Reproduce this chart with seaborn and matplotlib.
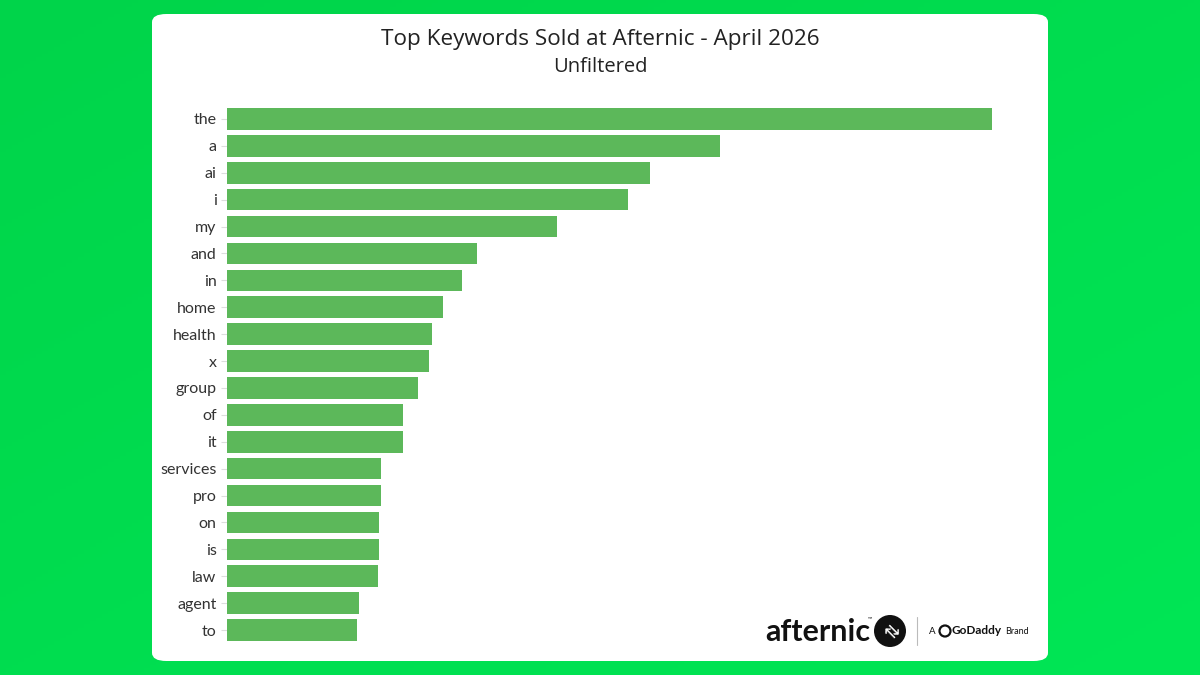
import numpy as np
import pandas as pd
import matplotlib
matplotlib.use("Agg")
import matplotlib.pyplot as plt
from matplotlib.patches import FancyBboxPatch, Ellipse
import seaborn as sns

keywords = ["the", "a", "ai", "i", "my", "and", "in", "home", "health", "x",
            "group", "of", "it", "services", "pro", "on", "is", "law", "agent", "to"]
counts = [765, 493, 423, 401, 330, 250, 235, 216, 205, 202,
          191, 176, 176, 154, 154, 152, 152, 151, 132, 130]

title = "Top Keywords Sold at Afternic - April 2026"
subtitle = "Unfiltered"

sns.set_theme(style="white")
plt.rcParams['font.family'] = ['Lato', 'DejaVu Sans']

df = pd.DataFrame({"keyword": keywords, "count": counts})

fig = plt.figure(figsize=(12, 6.75), dpi=100)
W, H = 1200, 675

# green gradient background
bg = fig.add_axes([0, 0, 1, 1], zorder=-10)
yy, xx = np.mgrid[0:1:200j, 0:1:200j]
g = 0.5 * xx + 0.5 * (1 - yy)
c1 = np.array([0x00, 0xd4, 0x4a]) / 255
c2 = np.array([0x00, 0xe6, 0x55]) / 255
img = c1[None, None, :] * (1 - g[..., None]) + c2[None, None, :] * g[..., None]
bg.imshow(img, extent=[0, 1, 0, 1], aspect='auto', origin='lower')
bg.set_xlim(0, 1); bg.set_ylim(0, 1)
bg.axis('off')

# white card
card = FancyBboxPatch((152 / W, 1 - 661 / H), (1048 - 152) / W, (661 - 14) / H,
                      boxstyle="round,pad=0,rounding_size=0.012",
                      transform=fig.transFigure, facecolor="white", edgecolor="none",
                      zorder=-5)
fig.patches.append(card)

ax_left = 227 / W
ax_right = 1030 / W
ax = fig.add_axes([ax_left, 1 - 643.5 / H, ax_right - ax_left, 538 / H])
ax.set_facecolor("none")
sns.barplot(data=df, x="count", y="keyword", color="#5cb85a", saturation=1,
            width=0.8, ax=ax, orient="h", linewidth=0)
ax.set_xlim(0, max(counts) * (1030 - 227) / 765)
ax.set_ylim(len(keywords) - 0.5, -0.5)
ax.set_xlabel(""); ax.set_ylabel("")
ax.set_xticks([])
ax.tick_params(axis='y', left=True, length=4.5, width=0.8, color="#dddddd", pad=3,
               labelsize=11.5, labelcolor="#333333")
for s in ax.spines.values():
    s.set_visible(False)

fig.text(600 / W, 1 - 40 / H, title, ha="center", va="center", fontsize=16.2,
         color="#222222", family=["Open Sans", "DejaVu Sans"])
fig.text(600 / W, 1 - 67 / H, subtitle, ha="center", va="center", fontsize=14.5,
         color="#222222", family=["Open Sans", "DejaVu Sans"])

# logo area
fig.text(765 / W, 1 - 632 / H, "afternic", ha="left", va="center", fontsize=22,
         fontweight="bold", color="#111111", family=["Lato", "DejaVu Sans"])
fig.text(868 / W, 1 - 619 / H, "™", ha="left", va="center", fontsize=4, color="#111111")
circ = Ellipse((890 / W, 1 - 631 / H), 32 / W, 32 / H, transform=fig.transFigure,
               facecolor="#111111", edgecolor="none")
fig.patches.append(circ)
fig.text(890 / W, 1 - 631 / H, "⇄", ha="center", va="center", fontsize=13,
         color="white", family=["DejaVu Sans"], rotation=-45)
fig.add_artist(plt.Line2D([917 / W, 917 / W], [1 - 645 / H, 1 - 617 / H],
                          transform=fig.transFigure, color="#bbbbbb", lw=0.8))
fig.text(929 / W, 1 - 631 / H, "A", ha="left", va="center", fontsize=7, color="#111111")
heart = Ellipse((945 / W, 1 - 631 / H), 11 / W, 11 / H, transform=fig.transFigure,
                facecolor="none", edgecolor="#111111", lw=1.6)
fig.patches.append(heart)
fig.text(952 / W, 1 - 631 / H, "GoDaddy", ha="left", va="center", fontsize=8.5,
         fontweight="bold", color="#111111")
fig.text(1005 / W, 1 - 631 / H, "Brand", ha="left", va="center", fontsize=6.5, color="#111111")

fig.savefig("out.png", dpi=100)
